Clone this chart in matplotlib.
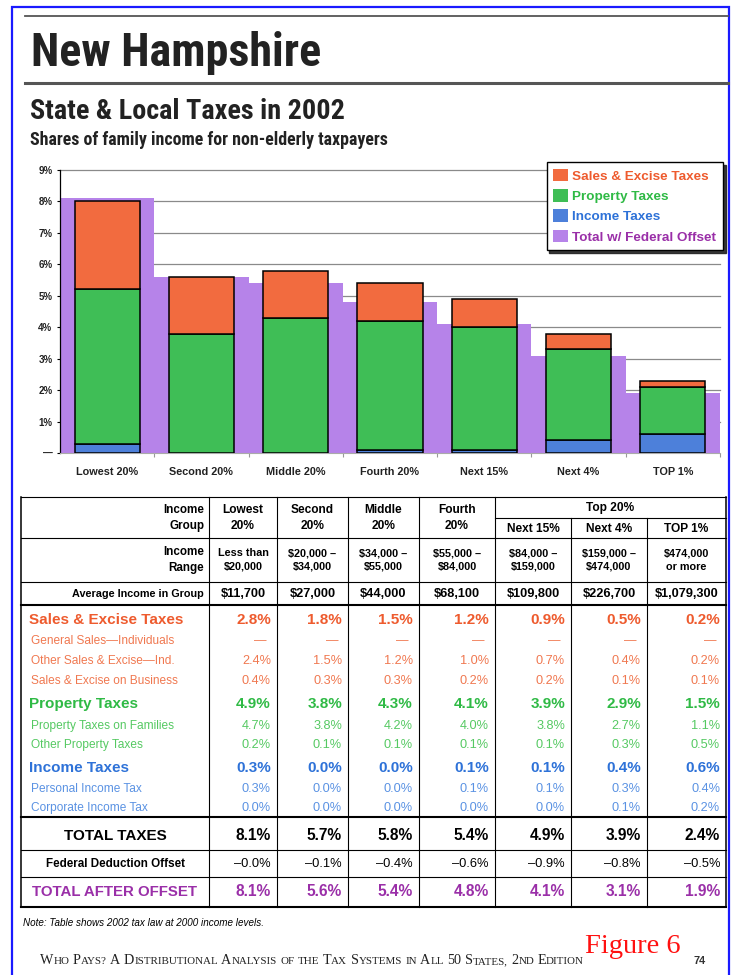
import os
import numpy as np
import matplotlib
matplotlib.use('Agg')
import matplotlib.pyplot as plt
from matplotlib.patches import Patch
from matplotlib import font_manager
from matplotlib.font_manager import FontProperties

# ---- data ----
groups = ['Lowest 20%', 'Second 20%', 'Middle 20%', 'Fourth 20%', 'Next 15%', 'Next 4%', 'TOP 1%']
col_heads = ['Lowest\n20%', 'Second\n20%', 'Middle\n20%', 'Fourth\n20%', 'Next 15%', 'Next 4%', 'TOP 1%']
income_ranges = ['Less than\n$20,000', '$20,000 –\n$34,000', '$34,000 –\n$55,000', '$55,000 –\n$84,000',
                 '$84,000 –\n$159,000', '$159,000 –\n$474,000', '$474,000\nor more']
avg_income = ['$11,700', '$27,000', '$44,000', '$68,100', '$109,800', '$226,700', '$1,079,300']

sales = [2.8, 1.8, 1.5, 1.2, 0.9, 0.5, 0.2]
general_sales = [None] * 7
other_sales = [2.4, 1.5, 1.2, 1.0, 0.7, 0.4, 0.2]
sales_business = [0.4, 0.3, 0.3, 0.2, 0.2, 0.1, 0.1]
prop = [4.9, 3.8, 4.3, 4.1, 3.9, 2.9, 1.5]
prop_families = [4.7, 3.8, 4.2, 4.0, 3.8, 2.7, 1.1]
prop_other = [0.2, 0.1, 0.1, 0.1, 0.1, 0.3, 0.5]
income = [0.3, 0.0, 0.0, 0.1, 0.1, 0.4, 0.6]
income_personal = [0.3, 0.0, 0.0, 0.1, 0.1, 0.3, 0.4]
income_corporate = [0.0, 0.0, 0.0, 0.0, 0.0, 0.1, 0.2]
total = [8.1, 5.7, 5.8, 5.4, 4.9, 3.9, 2.4]
fed_offset = [-0.0, -0.1, -0.4, -0.6, -0.9, -0.8, -0.5]
after_offset = [8.1, 5.6, 5.4, 4.8, 4.1, 3.1, 1.9]

legend_labels = ['Sales & Excise Taxes', 'Property Taxes', 'Income Taxes', 'Total w/ Federal Offset']

# ---- styles ----
ORANGE, GREEN, BLUE, LAV = '#F26B3F', '#3FBE56', '#4D80DA', '#B683E9'
T_OR, T_OR2 = '#EE5B2E', '#F07850'
T_GR, T_GR2 = '#2FBA45', '#55C962'
T_BL, T_BL2 = '#2E72D8', '#5A92E3'
T_PU = '#9A2FA8'
SANS = 'Liberation Sans'
SERIF = 'Liberation Serif'
plt.rcParams['font.family'] = [SANS, 'DejaVu Sans']


def condensed_bold():
    # look for a narrow / condensed bold sans face for the headings
    best = None
    prefs = ['Liberation Sans Narrow', 'Roboto Condensed', 'Open Sans Condensed',
             'Noto Sans Condensed', 'DejaVu Sans Condensed', 'DejaVu Sans']
    for f in font_manager.fontManager.ttflist:
        base = os.path.basename(f.fname)
        narrow = ('Narrow' in f.name or 'Condensed' in f.name or 'Narrow' in base
                  or 'Condensed' in base or 'condensed' in str(f.stretch))
        if not narrow or f.style != 'normal' or 'Mono' in base or 'Serif' in base:
            continue
        if f.weight not in (700, 'bold'):
            continue
        rank = len(prefs)
        for k, p in enumerate(prefs):
            if base.replace('-', ' ').startswith(p.replace(' ', '')) or f.name == p:
                rank = k
                break
        if best is None or rank < best[0]:
            best = (rank, f.fname)
    if best is None:
        return FontProperties(family=SANS, weight='bold')
    return FontProperties(fname=best[1])


COND = condensed_bold()

fig = plt.figure(figsize=(7.31, 9.75), dpi=100)
fig.patch.set_facecolor('white')
rend = fig.canvas.get_renderer()


def fit(t, target):
    w = t.get_window_extent(rend).width
    t.set_fontsize(t.get_fontsize() * target / w)


# page overlay in pixel coordinates
pg = fig.add_axes([0, 0, 1, 1])
pg.set_xlim(0, 731)
pg.set_ylim(975, 0)
pg.axis('off')

# blue frame
pg.plot([12, 12, 729, 729], [975, 7, 7, 975], color='#1a1aff', lw=1.6, solid_joinstyle='miter')
# rules
pg.plot([25, 728], [16, 16], color='#555555', lw=1.3)
pg.plot([25, 728], [83, 83], color='#555555', lw=2.2)

t = pg.text(31, 66, 'New Hampshire', fontproperties=COND, size=30, color='#222222', va='baseline')
fit(t, 290)
t = pg.text(30, 119, 'State & Local Taxes in 2002', fontproperties=COND, size=18, color='#222222',
            va='baseline')
fit(t, 313)
t = pg.text(30, 145, 'Shares of family income for non-elderly taxpayers', fontproperties=COND,
            size=10, color='#222222', va='baseline')
fit(t, 357)

# ---- chart ----
ax = fig.add_axes([60 / 731, (975 - 453) / 975, 660 / 731, 283 / 975])
ax.patch.set_visible(False)
x = np.arange(len(groups))
inc = np.array(income)
prp = np.array(prop)
ax.bar(x, after_offset, width=1.0, color=LAV, lw=0, zorder=1)
w = 0.69
ax.bar(x, inc, w, color=BLUE, edgecolor='black', lw=1.1, zorder=3)
ax.bar(x, prp, w, bottom=inc, color=GREEN, edgecolor='black', lw=1.1, zorder=3)
ax.bar(x, sales, w, bottom=inc + prp, color=ORANGE, edgecolor='black', lw=1.1, zorder=3)
for v in range(1, 10):
    ax.axhline(v, color='#8a8a8a', lw=0.9, zorder=0, clip_on=False)
ax.set_xlim(-0.5, 6.5)
ax.set_ylim(0, 9)
ax.set_yticks(range(10), ['—'] + ['%d%%' % i for i in range(1, 10)])
ax.set_xticks(x, groups)
ax.set_xticks(np.arange(0.5, 7, 1), minor=True)
ax.tick_params(axis='y', length=2.5, width=0.8, pad=3, labelsize=7)
ax.tick_params(axis='x', which='major', length=0, pad=10, labelsize=7.8)
ax.tick_params(axis='x', which='minor', length=3, width=0.8, color='#999999')
for lab in ax.get_yticklabels():
    lab.set_weight('bold')
    lab.set_color('#222222')
for lab in ax.get_xticklabels():
    lab.set_weight('bold')
    lab.set_color('#222222')
ax.spines['top'].set_visible(False)
ax.spines['right'].set_visible(False)
ax.spines['left'].set_linewidth(0.9)
ax.spines['bottom'].set_color('#aaaaaa')
ax.spines['bottom'].set_linewidth(0.8)

handles = [Patch(facecolor=c, edgecolor='none') for c in (ORANGE, GREEN, BLUE, LAV)]
leg = ax.legend(handles, legend_labels, loc='upper right', bbox_to_anchor=(723 / 731, 1 - 162 / 975),
                bbox_transform=fig.transFigure, borderaxespad=0, frameon=True, fancybox=False,
                edgecolor='black', shadow={'color': '#222222', 'alpha': 0.9},
                labelcolor=[T_OR, T_GR, T_BL, T_PU], prop={'weight': 'bold', 'size': 9.7},
                handlelength=1.05, handleheight=1.05, handletextpad=0.35, labelspacing=0.48,
                borderpad=0.5)
leg.get_frame().set_linewidth(1.0)
leg.set_zorder(10)

# ---- table ----
cols = [21, 209, 277, 348, 419, 495, 571, 647, 726]
LW, LWT = 0.8, 1.5
for yy in (497, 538, 582, 850, 877):
    pg.plot([cols[0], cols[-1]], [yy, yy], color='black', lw=LW)
for yy in (605, 817, 907):
    pg.plot([cols[0], cols[-1]], [yy, yy], color='black', lw=LWT)
pg.plot([cols[5], cols[-1]], [518, 518], color='black', lw=LW)
for i, xx in enumerate(cols):
    top = 518 if i in (6, 7) else 497
    pg.plot([xx, xx], [top, 907], color='black', lw=1.1 if i in (0, 8) else LW)

centers = [(cols[i + 1] + cols[i + 2]) / 2 for i in range(7)]
rights = [cols[i + 2] - 6 for i in range(7)]

pg.text(204, 518, 'Income\nGroup', ha='right', va='center', ma='right', linespacing=1.45,
        size=8.4, weight='bold')
for i in range(4):
    pg.text(centers[i], 518, col_heads[i], ha='center', va='center', ma='center',
            linespacing=1.45, size=8.6, weight='bold')
pg.text((cols[5] + cols[8]) / 2, 508, 'Top 20%', ha='center', va='center', size=8.6, weight='bold')
for i in range(4, 7):
    pg.text(centers[i], 529, col_heads[i], ha='center', va='center', size=8.6, weight='bold')

pg.text(204, 560, 'Income\nRange', ha='right', va='center', ma='right', linespacing=1.45,
        size=8.4, weight='bold')
for i in range(7):
    pg.text(centers[i], 560, income_ranges[i], ha='center', va='center', ma='center',
            linespacing=1.45, size=7.8, weight='bold')

pg.text(204, 594, 'Average Income in Group', ha='right', va='center', size=7.8, weight='bold')
for i in range(7):
    pg.text(centers[i], 594, avg_income[i], ha='center', va='center', size=9.2, weight='bold')


def pct(v):
    return '—' if v is None else '%.1f%%' % v


rows = [
    ('Sales & Excise Taxes', sales, 'main', T_OR),
    ('General Sales—Individuals', general_sales, 'sub', T_OR2),
    ('Other Sales & Excise—Ind.', other_sales, 'sub', T_OR2),
    ('Sales & Excise on Business', sales_business, 'sub', T_OR2),
    ('Property Taxes', prop, 'main', T_GR),
    ('Property Taxes on Families', prop_families, 'sub', T_GR2),
    ('Other Property Taxes', prop_other, 'sub', T_GR2),
    ('Income Taxes', income, 'main', T_BL),
    ('Personal Income Tax', income_personal, 'sub', T_BL2),
    ('Corporate Income Tax', income_corporate, 'sub', T_BL2),
]
row_y = [620, 641, 661, 681, 704, 726, 745, 768, 789, 808]
for (label, vals, kind, color), yy in zip(rows, row_y):
    if kind == 'main':
        pg.text(29, yy, label, va='center', size=11, weight='bold', color=color)
    else:
        pg.text(31, yy, label, va='center', size=8.6, color=color)
    for i, v in enumerate(vals):
        if v is None:
            pg.text(rights[i] - 4, yy, '—', ha='right', va='center', size=9, color=color)
        elif kind == 'main':
            pg.text(rights[i], yy, pct(v), ha='right', va='center', size=11, weight='bold', color=color)
        else:
            pg.text(rights[i], yy, pct(v), ha='right', va='center', size=9.2, color=color)

lab_c = (cols[0] + cols[1]) / 2
pg.text(lab_c, 836, 'TOTAL TAXES', ha='center', va='center', size=11, weight='bold')
pg.text(lab_c, 864, 'Federal Deduction Offset', ha='center', va='center', size=8.4, weight='bold')
pg.text(lab_c, 892, 'TOTAL AFTER OFFSET', ha='center', va='center', size=10.8, weight='bold', color=T_PU)
for i in range(7):
    pg.text(rights[i], 836, pct(total[i]), ha='right', va='center', size=11.2, weight='bold')
    pg.text(rights[i], 864, '–%.1f%%' % abs(fed_offset[i]), ha='right', va='center', size=9.3)
    pg.text(rights[i], 892, pct(after_offset[i]), ha='right', va='center', size=11.2,
            weight='bold', color=T_PU)

# ---- footer ----
pg.text(23, 923, 'Note: Table shows 2002 tax law at 2000 income levels.', va='center',
        size=7.1, style='italic', color='black')

# small caps line, built piece by piece on one baseline
footer = 'WHO PAYS? A DISTRIBUTIONAL ANALYSIS OF THE TAX SYSTEMS IN ALL 50 STATES, 2ND EDITION'
minor_words = ('OF', 'THE', 'IN')
cx = 40.0
for word in footer.split(' '):
    if word in minor_words:
        k = 0
    else:
        k = 1
        while k < len(word) and word[k].isdigit():
            k += 1
    for piece, sz in ((word[:k], 10.2), (word[k:], 7.9)):
        if piece:
            tt = pg.text(cx, 964, piece, size=sz, family=SERIF, va='baseline', color='#222222')
            cx += tt.get_window_extent(rend).width
    cx += 3.4

pg.text(585, 953, 'Figure 6', family=SERIF, size=20.5, color='#ff1010', va='baseline')
pg.text(693, 961, '74', size=7.8, weight='bold', color='#333333', va='center')

fig.savefig('out.png', dpi=100, facecolor='white')
